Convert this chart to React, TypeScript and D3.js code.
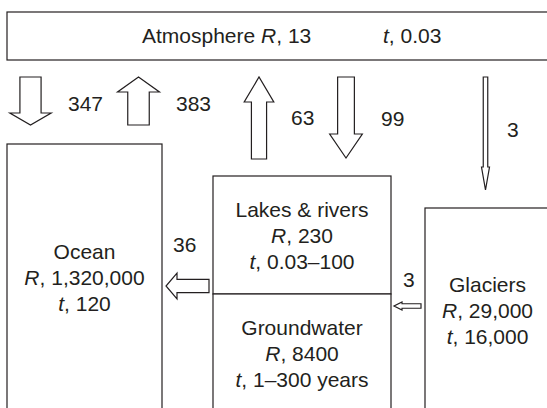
import React, { useEffect, useRef } from 'react';
import * as d3 from 'd3';

// reservoirs: name, size R, residence time t
const reservoirNames = ['Atmosphere', 'Ocean', 'Lakes & rivers', 'Groundwater', 'Glaciers'];
const reservoirSizes = ['13', '1,320,000', '230', '8400', '29,000'];
const residenceTimes = ['0.03', '120', '0.03–100', '1–300 years', '16,000'];

// fluxes between reservoirs
const fluxValues = [347, 383, 63, 99, 3, 36, 3];
const fluxDirections = ['down', 'up', 'up', 'down', 'down', 'left', 'left'];

const W = 547;
const H = 408;
const INK = '#231f20';
const FONT = '"Liberation Sans", Arial, Helvetica, sans-serif';

// box geometry, one per reservoir
const boxLayout = [
  { x: 7, y: 12, w: 560, h: 48 },
  { x: 7, y: 144, w: 155, h: 270 },
  { x: 213, y: 176, w: 178, h: 118 },
  { x: 213, y: 294, w: 178, h: 120 },
  { x: 425, y: 208, w: 125, h: 206 },
];
// text baselines inside the boxes (first line)
const boxTextTop = [43, 259, 217, 335, 291.5];

// arrow geometry: axis position, tail, tip, head length, label anchor
const arrowLayout = [
  { c: 30.5, from: 77, to: 125, head: 12, lx: 68, ly: 111 },
  { c: 138.5, from: 125, to: 77, head: 15, lx: 176, ly: 111 },
  { c: 259, from: 159, to: 77, head: 25, lx: 291, ly: 125 },
  { c: 346, from: 77, to: 158, head: 24, lx: 381, ly: 126 },
  { c: 485.5, from: 77, to: 190, head: 23, lx: 507, ly: 137 },
  { c: 286, from: 209, to: 166, head: 11, lx: 173, ly: 252 },
  { c: 306, from: 421, to: 394, head: 8, lx: 403, ly: 287 },
];

const App = () => {
  const svgRef = useRef<SVGSVGElement>(null);

  useEffect(() => {
    const svg = d3.select(svgRef.current);
    svg.selectAll('*').remove();

    // shaft width follows the flux on a log scale
    const shaft = d3.scaleLog().domain([3, 383]).range([4.5, 21.5]);

    // boxes
    svg.append('g')
      .selectAll('rect')
      .data(boxLayout)
      .join('rect')
      .attr('x', d => d.x)
      .attr('y', d => d.y)
      .attr('width', d => d.w)
      .attr('height', d => d.h)
      .attr('fill', 'white')
      .attr('stroke', INK)
      .attr('stroke-width', 1.2);

    // arrows
    const arrowPath = (i: number) => {
      const a = arrowLayout[i];
      const s = shaft(fluxValues[i]);
      const hw = s < 8 ? s + 3.5 : s * 1.95;
      const dir = Math.sign(a.to - a.from);
      const base = a.to - dir * a.head;
      // local points: [across, along]
      const pts: [number, number][] = [
        [-s / 2, a.from],
        [-s / 2, base],
        [-hw / 2, base],
        [0, a.to],
        [hw / 2, base],
        [s / 2, base],
        [s / 2, a.from],
      ];
      const horizontal = fluxDirections[i] === 'left' || fluxDirections[i] === 'right';
      const line = d3.line<[number, number]>()
        .x(p => (horizontal ? p[1] : a.c + p[0]))
        .y(p => (horizontal ? a.c + p[0] : p[1]));
      return line(pts) + 'Z';
    };

    svg.append('g')
      .selectAll('path')
      .data(fluxValues)
      .join('path')
      .attr('d', (_, i) => arrowPath(i))
      .attr('fill', 'white')
      .attr('stroke', INK)
      .attr('stroke-width', 1.2)
      .attr('stroke-linejoin', 'miter');

    svg.append('g')
      .selectAll('text')
      .data(fluxValues)
      .join('text')
      .attr('x', (_, i) => arrowLayout[i].lx)
      .attr('y', (_, i) => arrowLayout[i].ly)
      .attr('font-family', FONT)
      .attr('font-size', 21)
      .attr('fill', INK)
      .text(d => d);

    // atmosphere: single line across the top
    const atm = svg.append('text')
      .attr('x', 142)
      .attr('y', boxTextTop[0])
      .attr('font-family', FONT)
      .attr('font-size', 21)
      .attr('fill', INK);
    atm.append('tspan').text(reservoirNames[0] + ' ');
    atm.append('tspan').attr('font-style', 'italic').text('R');
    atm.append('tspan').text(', ' + reservoirSizes[0]);
    const atmT = svg.append('text')
      .attr('x', 383)
      .attr('y', boxTextTop[0])
      .attr('font-family', FONT)
      .attr('font-size', 21)
      .attr('fill', INK);
    atmT.append('tspan').attr('font-style', 'italic').text('t');
    atmT.append('tspan').text(', ' + residenceTimes[0]);

    // other reservoirs: three centred lines
    reservoirNames.slice(1).forEach((name, k) => {
      const i = k + 1;
      const b = boxLayout[i];
      const cx = i === 4 ? 487.5 : b.x + b.w / 2;
      const g = svg.append('g')
        .attr('font-family', FONT)
        .attr('font-size', 21)
        .attr('fill', INK)
        .attr('text-anchor', 'middle');
      g.append('text').attr('x', cx).attr('y', boxTextTop[i]).text(name);
      const r = g.append('text').attr('x', cx).attr('y', boxTextTop[i] + 26);
      r.append('tspan').attr('font-style', 'italic').text('R');
      r.append('tspan').text(', ' + reservoirSizes[i]);
      const t = g.append('text').attr('x', cx).attr('y', boxTextTop[i] + 52);
      t.append('tspan').attr('font-style', 'italic').text('t');
      t.append('tspan').text(', ' + residenceTimes[i]);
    });
  }, []);

  return (
    <svg
      ref={svgRef}
      width={W}
      height={H}
      style={{ position: 'absolute', left: 0, top: 0, background: 'white', overflow: 'hidden' }}
    />
  );
};

export default App;
